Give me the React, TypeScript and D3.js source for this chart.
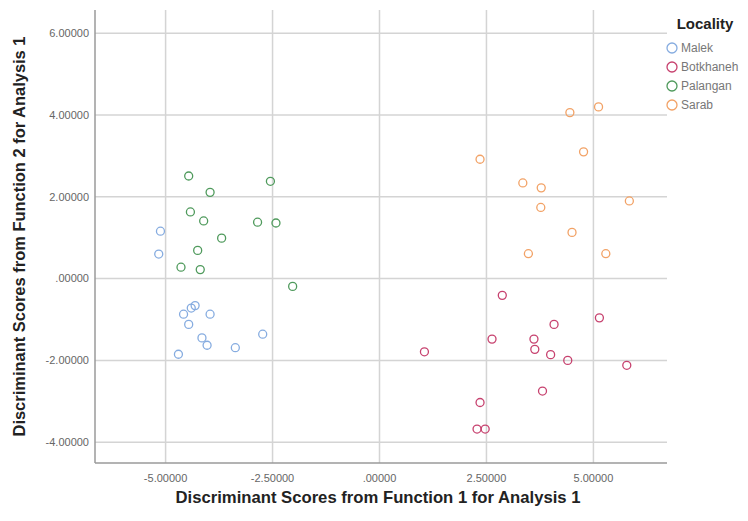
import React from 'react';
import * as d3 from 'd3';

const width = 748;
const height = 521;

const localities = ['Malek', 'Botkhaneh', 'Palangan', 'Sarab'];
const colors = ['#86ace0', '#c7426f', '#4f9a5c', '#f2a266'];

const malekX = [-5.12, -5.16, -4.31, -4.40, -4.58, -3.96, -4.46, -4.15, -4.03, -2.73, -3.37, -4.70];
const malekY = [1.16, 0.60, -0.66, -0.72, -0.87, -0.87, -1.12, -1.45, -1.63, -1.36, -1.69, -1.85];

const botkhanehX = [2.87, 5.14, 4.08, 2.63, 3.61, 3.63, 1.05, 4.00, 4.40, 5.78, 3.81, 2.35, 2.28, 2.47];
const botkhanehY = [-0.41, -0.96, -1.12, -1.48, -1.48, -1.73, -1.79, -1.86, -2.00, -2.12, -2.75, -3.03, -3.68, -3.68];

const palanganX = [-4.46, -2.55, -3.96, -4.42, -4.11, -2.85, -2.42, -3.69, -4.25, -4.64, -4.19, -2.03];
const palanganY = [2.51, 2.38, 2.11, 1.63, 1.41, 1.38, 1.36, 0.99, 0.69, 0.28, 0.22, -0.19];

const sarabX = [4.45, 5.12, 2.35, 4.77, 3.35, 3.78, 3.77, 5.84, 4.50, 3.48, 5.29];
const sarabY = [4.06, 4.20, 2.92, 3.10, 2.34, 2.22, 1.74, 1.90, 1.13, 0.61, 0.61];

const xTicks = [-5, -2.5, 0, 2.5, 5];
const xTickLabels = ['-5.00000', '-2.50000', '.00000', '2.50000', '5.00000'];
const yTicks = [6, 4, 2, 0, -2, -4];
const yTickLabels = ['6.00000', '4.00000', '2.00000', '.00000', '-2.00000', '-4.00000'];

const xTitle = 'Discriminant Scores from Function 1 for Analysis 1';
const yTitle = 'Discriminant Scores from Function 2 for Analysis 1';

const series = [
  { xs: malekX, ys: malekY },
  { xs: botkhanehX, ys: botkhanehY },
  { xs: palanganX, ys: palanganY },
  { xs: sarabX, ys: sarabY },
];

const left = 95;
const right = 667;
const top = 10;
const bottom = 463;

const App = () => {
  const xScale = d3.scaleLinear().domain([-6.65, 6.72]).range([left, right]);
  const yScale = d3.scaleLinear().domain([-4.51, 6.57]).range([bottom, top]);

  return (
    <svg width={width} height={height} style={{ position: 'absolute', left: 0, top: 0 }}
      fontFamily="'Liberation Sans', Arial, sans-serif">
      <rect width={width} height={height} fill="#fff" />
      {/* grid */}
      {xTicks.map(t => (
        <line key={'gx' + t} x1={xScale(t)} x2={xScale(t)} y1={top} y2={bottom}
          stroke="#d4d4d4" strokeWidth={1.5} />
      ))}
      {yTicks.map(t => (
        <line key={'gy' + t} x1={left} x2={right} y1={yScale(t)} y2={yScale(t)}
          stroke="#d4d4d4" strokeWidth={1.5} />
      ))}
      {/* axes */}
      <line x1={left} x2={left} y1={top} y2={bottom} stroke="#9a9a9a" strokeWidth={1.5} />
      <line x1={left} x2={right} y1={bottom} y2={bottom} stroke="#9a9a9a" strokeWidth={1.5} />
      {xTicks.map((t, i) => (
        <text key={'xl' + t} x={xScale(t)} y={482} textAnchor="middle" fontSize={11} fill="#666">
          {xTickLabels[i]}
        </text>
      ))}
      {yTicks.map((t, i) => (
        <text key={'yl' + t} x={89} y={yScale(t)} dy="0.35em" textAnchor="end" fontSize={11} fill="#666">
          {yTickLabels[i]}
        </text>
      ))}
      {/* points */}
      {series.map((s, si) => (
        <g key={'s' + si}>
          {s.xs.map((x, i) => (
            <circle key={i} cx={xScale(x)} cy={yScale(s.ys[i])} r={4}
              fill="none" stroke={colors[si]} strokeWidth={1.3} />
          ))}
        </g>
      ))}
      {/* titles */}
      <text x={(left + right) / 2 - 3} y={503} textAnchor="middle" fontSize={17} fontWeight="bold"
        fill="#222" textLength={405} lengthAdjust="spacingAndGlyphs">{xTitle}</text>
      <text transform={`translate(25,${(top + bottom) / 2}) rotate(-90)`} textAnchor="middle"
        fontSize={17} fontWeight="bold" fill="#222" textLength={400} lengthAdjust="spacingAndGlyphs">{yTitle}</text>
      {/* legend */}
      <text x={705} y={29} textAnchor="middle" fontSize={15} fontWeight="bold" fill="#222">Locality</text>
      {localities.map((name, i) => (
        <g key={name} transform={`translate(672,${48 + i * 19})`}>
          <circle r={5} fill="none" stroke={colors[i]} strokeWidth={1.3} />
          <text x={9} dy="0.35em" fontSize={12} fill="#777">{name}</text>
        </g>
      ))}
    </svg>
  );
};

export default App;
